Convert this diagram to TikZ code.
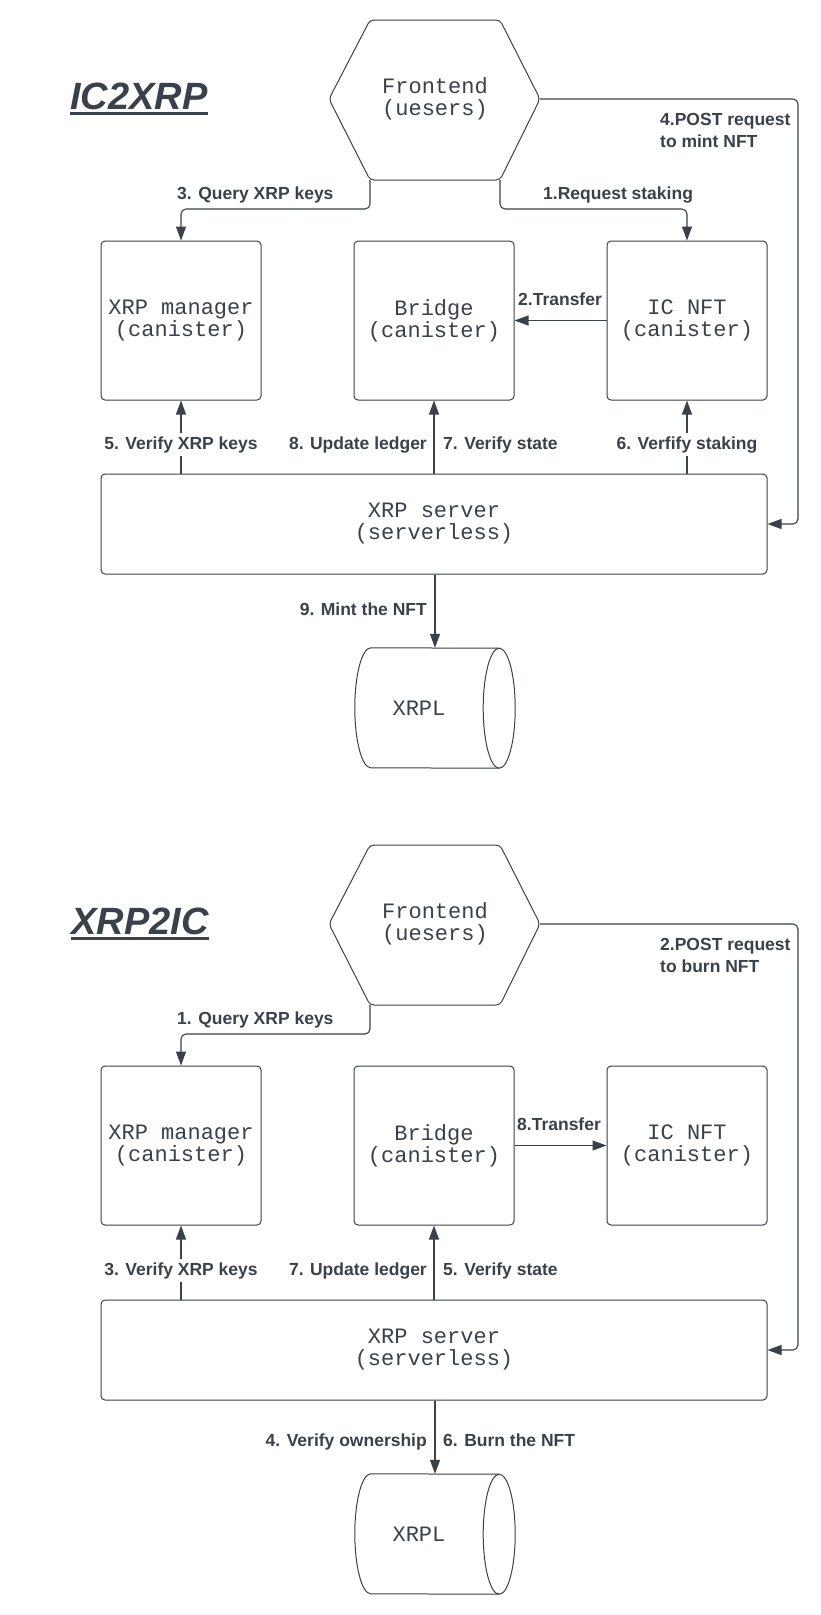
\documentclass[tikz,border=0pt]{standalone}
\usepackage{fontspec}
\setmainfont{Liberation Sans}
\newfontfamily\monof{Liberation Mono}
\usetikzlibrary{arrows.meta}
\definecolor{ink}{HTML}{3A414A}
\begin{document}
\begin{tikzpicture}[x=1pt,y=-1pt,
  lbl/.style={font=\fontsize{17.5}{21}\selectfont\bfseries, text=ink, inner sep=0pt},
  lblw/.style={lbl, fill=white, inner xsep=0pt, inner ysep=3pt},
  mono/.style={font=\monof\fontsize{22}{22}\selectfont, text=ink, align=center},
  box/.style={mono, draw=ink, line width=1pt, rounded corners=4pt, minimum width=160pt, minimum height=159pt, inner sep=0pt},
  srvbox/.style={mono, draw=ink, line width=1pt, rounded corners=4pt, minimum width=666pt, minimum height=100pt, inner sep=0pt},
  shapeline/.style={draw=ink, line width=1pt},
  arr/.style={draw=ink, line width=1.1pt, -{Triangle[length=14pt,width=10pt]}, rounded corners=5pt},
  title/.style={font=\fontsize{38}{40}\selectfont\bfseries\itshape, text=ink, inner sep=0pt, anchor=base}
]
\useasboundingbox[fill=white] (0,0) rectangle (820,1615);

% ================= IC2XRP =================
\node[title] (t1) at (139,109) {IC2XRP};
\draw[ink, line width=3pt] ([yshift=-4.5pt]t1.base west) -- ([yshift=-4.5pt]t1.base east);

\node[mono] (fe) at (435,99) {Frontend\\(uesers)};
\coordinate (feL) at (329,99);
\coordinate (feTL) at (370,20);
\coordinate (feTR) at (500,20);
\coordinate (feR) at (540,99);
\coordinate (feBR) at (500,180);
\coordinate (feBL) at (370,180);
\draw[shapeline, rounded corners=4pt] (feL) -- (feTL) -- (feTR) -- (feR) -- (feBR) -- (feBL) -- cycle;

\node[box] (xm) at (181,320.5) {XRP manager\\(canister)};
\node[box] (br) at (434,320.5) {Bridge\\(canister)};
\node[box] (nft) at (687,320.5) {IC NFT\\(canister)};
\node[srvbox] (srv) at (434,524) {XRP server\\(serverless)};

\node[mono, minimum width=160pt, minimum height=120pt, inner sep=0pt] (xrpl) at (435,708) {XRPL\hspace*{32pt}};
\draw[shapeline] ([xshift=16pt]xrpl.north west) arc[start angle=90, end angle=270, x radius=16pt, y radius=60pt]
  -- ([xshift=-16pt]xrpl.south east) arc[start angle=-90, end angle=90, x radius=16pt, y radius=60pt] -- cycle;
\draw[shapeline] ([xshift=-16pt]xrpl.south east) arc[start angle=270, end angle=90, x radius=16pt, y radius=60pt];

% connectors
\draw[arr] (feBL) -- (370,209) -| (xm.north);
\node[lbl, anchor=base west] (l3) at (177,199) {3. Query XRP keys};
\draw[arr] (feBR) -- (500,209) -| (nft.north);
\node[lbl, anchor=base west] (l1) at (543,199) {1.Request staking};
\draw[arr] (feR) -- (798,99) |- (srv.east);
\node[lbl, anchor=base west] (l4a) at (660,125) {4.POST request};
\node[lbl, anchor=base west] (l4b) at (660,147) {to mint NFT};
\draw[arr] (nft.west) -- (br.east);
\node[lbl, anchor=base west] (l2) at (518,305) {2.Transfer};
\draw[arr] (xm.south |- srv.north) -- (xm.south);
\node[lblw, anchor=base] (l5) at (181,449) {5. Verify XRP keys};
\draw[arr] (br.south |- srv.north) -- (br.south);
\node[lbl, anchor=base east] (l8) at (427,449) {8. Update ledger};
\node[lbl, anchor=base west] (l7) at (443,449) {7. Verify state};
\draw[arr] (nft.south |- srv.north) -- (nft.south);
\node[lblw, anchor=base] (l6) at (687,449) {6. Verfify staking};
\draw[arr] (srv.south -| xrpl.north) -- (xrpl.north);
\node[lbl, anchor=base east] (l9) at (427,615) {9. Mint the NFT};

% ================= XRP2IC =================
\begin{scope}[shift={(0,825)}]
\node[title] (t2) at (140,109) {XRP2IC};
\draw[ink, line width=3pt] ([yshift=-4.5pt]t2.base west) -- ([yshift=-4.5pt]t2.base east);

\node[mono] (fe2) at (435,99) {Frontend\\(uesers)};
\coordinate (fe2L) at (329,99);
\coordinate (fe2TL) at (370,20);
\coordinate (fe2TR) at (500,20);
\coordinate (fe2R) at (540,99);
\coordinate (fe2BR) at (500,180);
\coordinate (fe2BL) at (370,180);
\draw[shapeline, rounded corners=4pt] (fe2L) -- (fe2TL) -- (fe2TR) -- (fe2R) -- (fe2BR) -- (fe2BL) -- cycle;

\node[box] (xm2) at (181,320.5) {XRP manager\\(canister)};
\node[box] (br2) at (434,320.5) {Bridge\\(canister)};
\node[box] (nft2) at (687,320.5) {IC NFT\\(canister)};
\node[srvbox] (srv2) at (434,525) {XRP server\\(serverless)};

\node[mono, minimum width=160pt, minimum height=120pt, inner sep=0pt] (xrpl2) at (435,709) {XRPL\hspace*{32pt}};
\draw[shapeline] ([xshift=16pt]xrpl2.north west) arc[start angle=90, end angle=270, x radius=16pt, y radius=60pt]
  -- ([xshift=-16pt]xrpl2.south east) arc[start angle=-90, end angle=90, x radius=16pt, y radius=60pt] -- cycle;
\draw[shapeline] ([xshift=-16pt]xrpl2.south east) arc[start angle=270, end angle=90, x radius=16pt, y radius=60pt];

\draw[arr] (fe2BL) -- (370,209) -| (xm2.north);
\node[lbl, anchor=base west] (m1) at (177,199) {1. Query XRP keys};
\draw[arr] (fe2R) -- (798,99) |- (srv2.east);
\node[lbl, anchor=base west] (m2a) at (660,125) {2.POST request};
\node[lbl, anchor=base west] (m2b) at (660,147) {to burn NFT};
\draw[arr] (br2.east) -- (nft2.west);
\node[lbl, anchor=base west] (m8) at (517,305) {8.Transfer};
\draw[arr] (xm2.south |- srv2.north) -- (xm2.south);
\node[lblw, anchor=base] (m3) at (181,450) {3. Verify XRP keys};
\draw[arr] (br2.south |- srv2.north) -- (br2.south);
\node[lbl, anchor=base east] (m7) at (427,450) {7. Update ledger};
\node[lbl, anchor=base west] (m5) at (443,450) {5. Verify state};
\draw[arr] (srv2.south -| xrpl2.north) -- (xrpl2.north);
\node[lbl, anchor=base east] (m4) at (427,621) {4. Verify ownership};
\node[lbl, anchor=base west] (m6) at (443,621) {6. Burn the NFT};
\end{scope}
\end{tikzpicture}
\end{document}
